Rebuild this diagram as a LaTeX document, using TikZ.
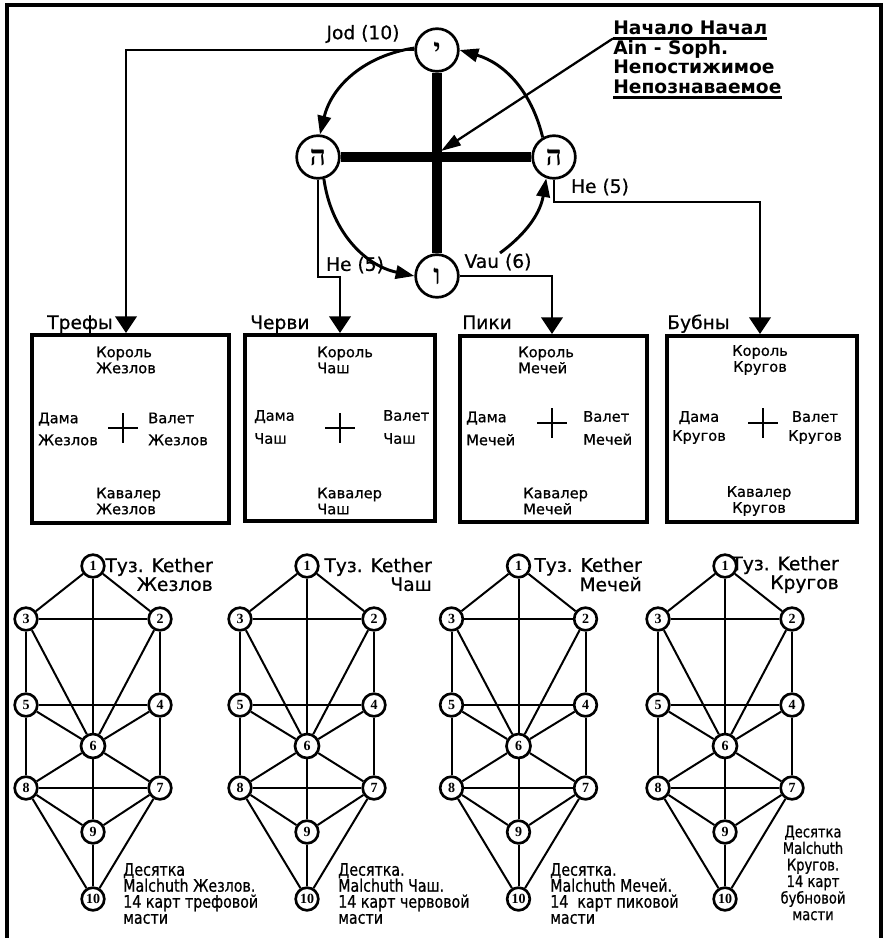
\documentclass[tikz,border=0pt]{standalone}
\usepackage{fontspec}
\setmainfont{DejaVu Sans}
\newfontfamily\medfont[FakeBold=0.7]{DejaVu Sans}
\newfontfamily\condfont[FakeStretch=0.82,FakeBold=0.7]{DejaVu Sans}
\newfontfamily\hebfont[Script=Hebrew]{Liberation Serif}
\newfontfamily\numfont{Liberation Serif}
\usetikzlibrary{arrows.meta}
\tikzset{
  ring/.style={circle, draw, line width=2pt, fill=white, minimum size=32pt, inner sep=0pt,
    font=\hebfont\bfseries\fontsize{21}{21}\selectfont},
  thickbar/.style={line width=7.5pt},
  conn/.style={line width=2.2pt, -{Triangle[length=12.5pt,width=16pt]}},
  arcarrow/.style={line width=2.2pt, -{Triangle[length=14pt,width=10pt]}},
  ptr/.style={line width=1.7pt, -{Triangle[length=15pt,width=9pt]}},
  uline/.style={line width=2.3pt},
  card/.style={draw, line width=3pt, inner sep=0pt},
  crossline/.style={line width=1.1pt},
  hdr/.style={font=\bfseries\fontsize{14}{14}\selectfont, inner sep=0pt},
  lbl/.style={font=\medfont\fontsize{14}{14}\selectfont, inner sep=0pt},
  suit/.style={font=\medfont\fontsize{14}{14}\selectfont, inner sep=0pt, anchor=base west},
  bt/.style={font=\medfont\fontsize{11}{12}\selectfont, inner sep=0pt},
  btw/.style={font=\medfont\fontsize{11}{16.5}\selectfont, inner sep=0pt},
  tl/.style={font=\medfont\fontsize{14}{12.75}\selectfont, inner sep=0pt, anchor=east, align=right},
  bl/.style={font=\condfont\fontsize{13}{12}\selectfont, inner sep=0pt},
  sf/.style={circle, draw, line width=2pt, fill=white, minimum size=17pt, inner sep=0pt,
    font=\numfont\bfseries\fontsize{10.5}{10.5}\selectfont},
  treeline/.style={line width=1.5pt}
}
\newcommand{\drawtree}[2]{%
  \node[sf] (#1-1) at (#2,-566) {1};
  \node[sf] (#1-2) at (#2+67,-619) {2};
  \node[sf] (#1-3) at (#2-67,-619) {3};
  \node[sf] (#1-4) at (#2+67,-705) {4};
  \node[sf] (#1-5) at (#2-67,-705) {5};
  \node[sf, minimum size=18pt] (#1-6) at (#2,-746) {6};
  \node[sf] (#1-7) at (#2+67,-788) {7};
  \node[sf] (#1-8) at (#2-67,-788) {8};
  \node[sf] (#1-9) at (#2,-832) {9};
  \node[sf] (#1-10) at (#2,-899) {10};
  \draw[treeline] (#1-1) -- (#1-2);
  \draw[treeline] (#1-1) -- (#1-3);
  \draw[treeline] (#1-1) -- (#1-6);
  \draw[treeline] (#1-2) -- (#1-3);
  \draw[treeline] (#1-2) -- (#1-4);
  \draw[treeline] (#1-2) -- (#1-6);
  \draw[treeline] (#1-3) -- (#1-5);
  \draw[treeline] (#1-3) -- (#1-6);
  \draw[treeline] (#1-4) -- (#1-5);
  \draw[treeline] (#1-4) -- (#1-6);
  \draw[treeline] (#1-4) -- (#1-7);
  \draw[treeline] (#1-5) -- (#1-6);
  \draw[treeline] (#1-5) -- (#1-8);
  \draw[treeline] (#1-6) -- (#1-7);
  \draw[treeline] (#1-6) -- (#1-8);
  \draw[treeline] (#1-6) -- (#1-9);
  \draw[treeline] (#1-7) -- (#1-8);
  \draw[treeline] (#1-7) -- (#1-9);
  \draw[treeline] (#1-7) -- (#1-10);
  \draw[treeline] (#1-8) -- (#1-9);
  \draw[treeline] (#1-8) -- (#1-10);
  \draw[treeline] (#1-9) -- (#1-10);
}
\begin{document}
\begin{tikzpicture}[x=0.75pt,y=0.75pt]
\useasboundingbox (0,0) rectangle (888,-938);
% frame
\draw[line width=3pt] (7,-938) -- (7,-5) -- (881,-5) -- (881,-938);

% ring of letters
\node[ring] (topY) at (437,-50) {י};
\node[ring] (leftH) at (318,-157) {ה};
\node[ring] (rightH) at (554,-157) {ה};
\node[ring] (botV) at (437,-276) {ו};
\draw[thickbar] (leftH.east) -- (rightH.west);
\draw[thickbar] (topY.south) -- (botV.north);

\draw[arcarrow] (topY.175) to[bend right=34] (leftH.85);
\draw[arcarrow] (leftH.-75) to[bend right=35] (botV.west);
\coordinate (vt) at (500,-253);
\draw[arcarrow] (vt) to[bend right=22] (rightH.-110);
\draw[arcarrow] (rightH.120) to[bend right=30] (topY.east);

% header text
\node[hdr, anchor=base west] (hdA) at (613,-35) {Начало Начал};
\node[hdr, anchor=base west] (hdB) at (613,-55) {Ain - Soph.};
\node[hdr, anchor=base west] (hdC) at (613,-74) {Непостижимое};
\node[hdr, anchor=base west] (hdD) at (613,-94) {Непознаваемое};
\draw[uline] ([yshift=-2.6pt]hdA.base west) -- ([yshift=-2.6pt]hdA.base east);
\draw[uline] ([yshift=-2.8pt]hdD.base west) -- ([yshift=-2.8pt]hdD.base east);
\coordinate (ptip) at (441,-151);
\draw[ptr] ([yshift=-2.6pt]hdA.base west) -- (ptip);

% labels on connectors
\node[lbl] (jodL) at (363,-34) {Jod (10)};
\node[lbl] (he1L) at (355,-265) {He (5)};
\node[lbl] (vauL) at (498,-262) {Vau (6)};
\node[lbl] (he2L) at (600,-187) {He (5)};

% boxes
\node[card, minimum width=147.75pt, minimum height=141pt] (box1) at (130.5,-429) {};
\node[card, minimum width=142.5pt, minimum height=139.5pt] (box2) at (340,-428) {};
\node[card, minimum width=140.25pt, minimum height=139.5pt] (box3) at (553.5,-429) {};
\node[card, minimum width=142.5pt, minimum height=139.5pt] (box4) at (762,-429) {};

% connectors to boxes
\coordinate (j1) at (126,-50);
\draw[conn] (topY.west) -- (j1) -- (j1 |- box1.north);
\coordinate (ha) at (318,-277);
\coordinate (hb) at (340,-277);
\draw[conn] (leftH.south) -- (ha) -- (hb) -- (hb |- box2.north);
\coordinate (v1) at (552,-276);
\draw[conn] (botV.east) -- (v1) -- (v1 |- box3.north);
\coordinate (hc) at (554,-202);
\coordinate (hd) at (760,-202);
\draw[conn] (rightH.south) -- (hc) -- (hd) -- (hd |- box4.north);

% suit labels
\node[suit] (s1) at (47,-329) {Трефы};
\node[suit] (s2) at (250,-329) {Черви};
\node[suit] (s3) at (462,-329) {Пики};
\node[suit] (s4) at (667,-329) {Бубны};

% box 1 contents
\node[bt, anchor=west, align=left] (b1k) at (96,-360) {Король\\Жезлов};
\node[btw, anchor=west, align=left] (b1d) at (38,-429) {Дама\\Жезлов};
\node[btw, anchor=west, align=left] (b1v) at (148,-429) {Валет\\Жезлов};
\node[bt, anchor=west, align=left] (b1c) at (96,-501) {Кавалер\\Жезлов};
\draw[crossline] (108,-428) -- (138,-428) (123,-413) -- (123,-443);

% box 2 contents
\node[bt, anchor=west, align=left] (b2k) at (317,-360) {Король\\Чаш};
\node[btw, anchor=west, align=left, font=\medfont\fontsize{11}{17.25}\selectfont] (b2d) at (254,-427) {Дама\\Чаш};
\node[btw, anchor=west, align=left, font=\medfont\fontsize{11}{17.25}\selectfont] (b2v) at (383,-427) {Валет\\Чаш};
\node[bt, anchor=west, align=left] (b2c) at (317,-501) {Кавалер\\Чаш};
\draw[crossline] (325,-428) -- (355,-428) (340,-413) -- (340,-443);

% box 3 contents
\node[bt, anchor=west, align=left] (b3k) at (518,-360) {Король\\Мечей};
\node[btw, anchor=west, align=left, font=\medfont\fontsize{11}{17.25}\selectfont] (b3d) at (466,-428.5) {Дама\\Мечей};
\node[btw, anchor=west, align=left, font=\medfont\fontsize{11}{17.25}\selectfont] (b3v) at (583,-428) {Валет\\Мечей};
\node[bt, anchor=west, align=left] (b3c) at (523,-501) {Кавалер\\Мечей};
\draw[crossline] (537,-423) -- (567,-423) (552,-408) -- (552,-438);

% box 4 contents
\node[bt, align=center] (b4k) at (760,-360) {Король\\Кругов};
\node[bt, align=center, font=\medfont\fontsize{11}{14.25}\selectfont] (b4d) at (699,-427.5) {Дама\\Кругов};
\node[bt, align=center, font=\medfont\fontsize{11}{14.25}\selectfont] (b4v) at (815,-427.5) {Валет\\Кругов};
\node[bt, align=center] (b4c) at (759,-501) {Кавалер\\Кругов};
\draw[crossline] (748,-423) -- (778,-423) (763,-408) -- (763,-438);

% trees
\drawtree{ta}{93}
\drawtree{tb}{307}
\drawtree{tc}{518.5}
\drawtree{td}{725}

% tree labels
\node[tl] (ta-top) at (213,-574.5) {Туз. Kether\\Жезлов};
\node[tl] (tb-top) at (432,-574.5) {Туз. Kether\\Чаш};
\node[tl] (tc-top) at (642,-574.5) {Туз. Kether\\Мечей};
\node[tl] (td-top) at (839,-574.5) {Туз. Kether\\Кругов};

\node[bl, anchor=west, align=left] (ta-bot) at (123,-893.5) {Десятка\\Malchuth Жезлов.\\14 карт трефовой\\масти};
\node[bl, anchor=west, align=left] (tb-bot) at (338,-893.5) {Десятка.\\Malchuth Чаш.\\14 карт червовой\\масти};
\node[bl, anchor=west, align=left] (tc-bot) at (550,-893.5) {Десятка.\\Malchuth Мечей.\\14~~карт пиковой\\масти};
\node[bl, align=center, font=\condfont\fontsize{12}{12.4}\selectfont] (td-bot) at (813,-873) {Десятка\\Malchuth\\Кругов.\\14 карт\\бубновой\\масти};
\end{tikzpicture}
\end{document}
